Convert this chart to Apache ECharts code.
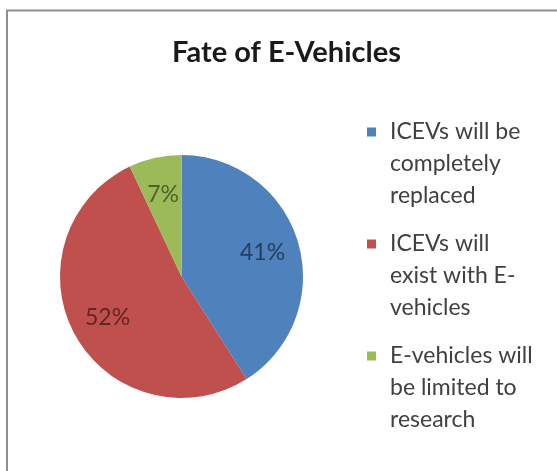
<!DOCTYPE html>
<html>
<head>
<meta charset="utf-8">
<script src="https://cdn.jsdelivr.net/npm/echarts@6/dist/echarts.min.js"></script>
<style>
  html, body { margin: 0; padding: 0; background: #ffffff; }
  #chart { width: 557px; height: 471px; }
</style>
</head>
<body>
<div id="chart"></div>
<script>
// Survey: expected fate of electric vehicles (share of respondents, %)
const titleText = 'Fate of E-Vehicles';
const categories = [
  'ICEVs will be\ncompletely\nreplaced',
  'ICEVs will\nexist with E-\nvehicles',
  'E-vehicles will\nbe limited to\nresearch'
];
const shares = [41, 52, 7];

// Office-style palette and the darker shades used for the slice labels
const sliceColors = ['#4F81BD', '#C0504D', '#9BBB59'];
const labelColors = ['#243F60', '#632523', '#4F6228'];

const FONT = 'Lato, "Open Sans", "DejaVu Sans", sans-serif';
const CENTER = [181.5, 276.5];
const RADIUS = 121.5;

const sliceData = categories.map((name, i) => ({
  name: name,
  value: shares[i],
  itemStyle: { color: sliceColors[i] }
}));

// Label ring: same values on a transparent, larger pie so the
// percentage labels sit at ~67% of the visible radius.
const labelData = categories.map((name, i) => ({
  name: name,
  value: shares[i],
  label: { color: labelColors[i] }
}));

const chart = echarts.init(document.getElementById('chart'), null, { renderer: 'canvas' });

chart.setOption({
  backgroundColor: '#ffffff',
  animation: false,
  title: {
    text: titleText,
    left: 172,
    top: 38,
    padding: 0,
    textStyle: {
      fontFamily: FONT,
      fontSize: 29,
      fontWeight: 'bold',
      color: '#1a1a1a'
    }
  },
  legend: {
    orient: 'vertical',
    left: 367,
    top: 52,
    padding: 0,
    itemGap: -48,
    itemWidth: 9,
    itemHeight: 9,
    icon: 'rect',
    selectedMode: false,
    data: categories,
    // two blank lines on top keep the marker level with the first text line
    formatter: name => '\n\n' + name,
    textStyle: {
      fontFamily: FONT,
      fontSize: 23,
      lineHeight: 32,
      color: '#404040',
      padding: [0, 0, 0, 9]
    }
  },
  graphic: [{
    type: 'rect',
    silent: true,
    z: 100,
    shape: { x: 7, y: 10.5, width: 620, height: 520 },
    style: { fill: 'none', stroke: '#8e8e8e', lineWidth: 2 }
  }],
  series: [
    {
      type: 'pie',
      center: CENTER,
      radius: [0, RADIUS],
      startAngle: 90,
      clockwise: true,
      silent: true,
      label: { show: false },
      labelLine: { show: false },
      itemStyle: { borderWidth: 0 },
      emphasis: { disabled: true },
      data: sliceData
    },
    {
      type: 'pie',
      center: CENTER,
      radius: [0, RADIUS * 1.34],
      startAngle: 90,
      clockwise: true,
      silent: true,
      z: 3,
      itemStyle: { color: 'transparent', borderWidth: 0 },
      emphasis: { disabled: true },
      labelLine: { show: false },
      label: {
        show: true,
        position: 'inside',
        formatter: '{c}%',
        fontFamily: FONT,
        fontSize: 23
      },
      data: labelData
    }
  ]
});
</script>
</body>
</html>
